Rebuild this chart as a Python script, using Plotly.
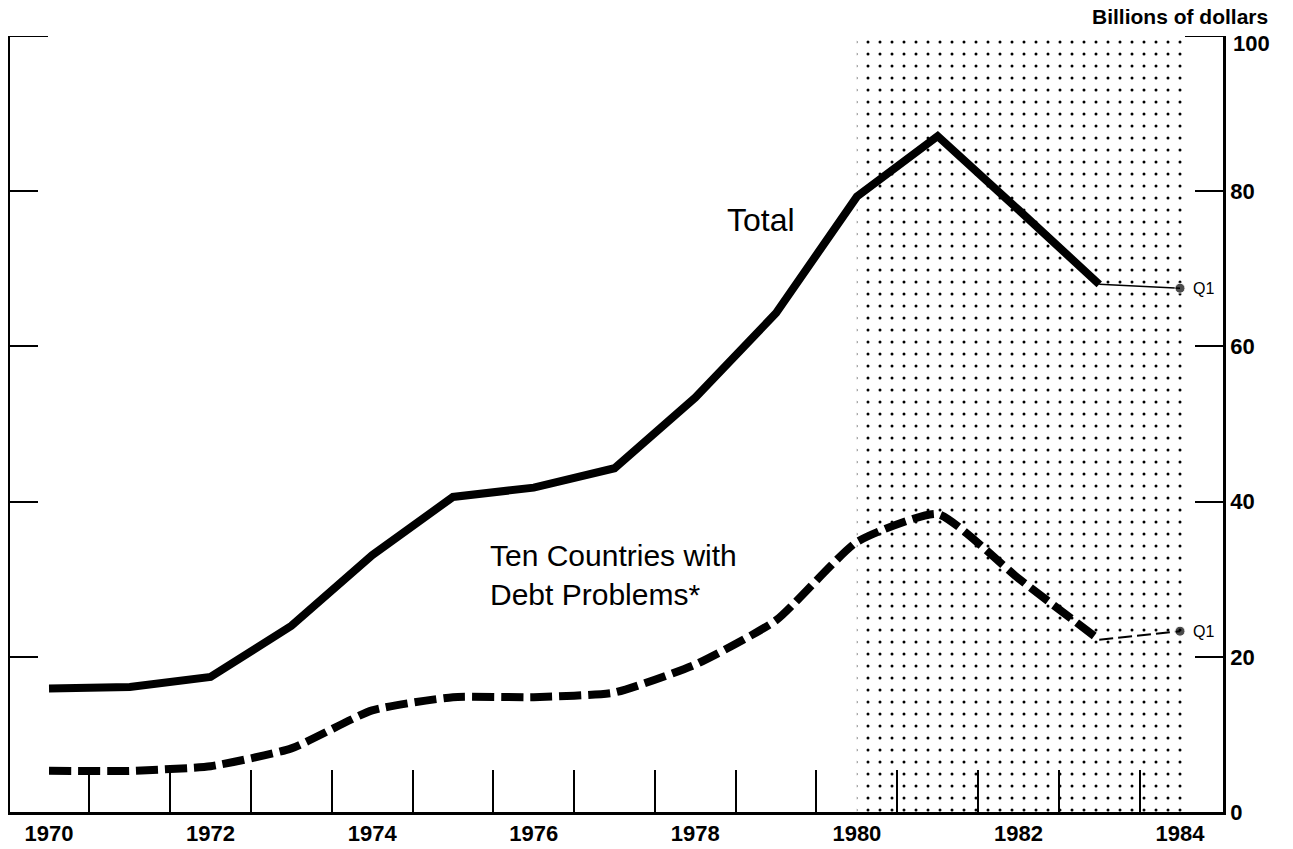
import plotly.graph_objects as go

# Data (billions of dollars)
years = [1970, 1971, 1972, 1973, 1974, 1975, 1976, 1977, 1978, 1979, 1980, 1981, 1982, 1983]
total = [15.9, 16.1, 17.4, 24.0, 33.1, 40.6, 41.8, 44.3, 53.4, 64.3, 79.3, 87.1, 77.6, 68.0]
ten_countries = [5.3, 5.3, 5.9, 8.2, 13.1, 14.8, 14.8, 15.4, 19.0, 24.7, 34.8, 38.4, 30.1, 22.2]
q1_year = 1984
total_q1 = 67.5
ten_q1 = 23.3

shade_start = 1980
shade_end = 1984.05

x_label_years = [1970, 1972, 1974, 1976, 1978, 1980, 1982, 1984]
x_minor_ticks = [y + 0.5 for y in range(1970, 1984)]
y_ticks = [0, 20, 40, 60, 80, 100]

FONT = "Liberation Sans, Arial, sans-serif"

fig = go.Figure()

# dotted shaded period
fig.add_trace(go.Scatter(
    x=[shade_start, shade_end, shade_end, shade_start, shade_start],
    y=[0, 0, 100, 100, 0],
    fill="toself", mode="lines", line=dict(width=0),
    fillcolor="rgba(0,0,0,0)",
    fillpattern=dict(shape=".", size=12, solidity=0.05, fgcolor="black",
                     bgcolor="rgba(0,0,0,0)", fgopacity=1),
    hoverinfo="skip", showlegend=False))

# Total
fig.add_trace(go.Scatter(x=years, y=total, mode="lines",
                         line=dict(color="black", width=8), showlegend=False))
fig.add_trace(go.Scatter(x=[years[-1], q1_year], y=[total[-1], total_q1], mode="lines+markers",
                         line=dict(color="black", width=1.5),
                         marker=dict(size=[0, 10], color="black"), showlegend=False))

# Ten countries
fig.add_trace(go.Scatter(x=years, y=ten_countries, mode="lines",
                         line=dict(color="black", width=8, dash="22px,7px", shape="spline", smoothing=0.5),
                         showlegend=False))
fig.add_trace(go.Scatter(x=[years[-1], q1_year], y=[ten_countries[-1], ten_q1], mode="lines+markers",
                         line=dict(color="black", width=2, dash="14px,5px"),
                         marker=dict(size=[0, 10], color="black"), showlegend=False, yaxis="y2"))

fig.add_annotation(x=1978.81, y=76.3, text="Total", xanchor="center", yanchor="middle",
                   showarrow=False, font=dict(family=FONT, size=32, color="black"))
fig.add_annotation(x=1975.43, y=30.5, text="Ten Countries with<br>Debt Problems*",
                   xanchor="left", yanchor="middle", align="left",
                   showarrow=False, font=dict(family=FONT, size=30, color="black"))
fig.add_annotation(x=q1_year + 0.14, y=total_q1, text="Q1", xanchor="left", yanchor="middle",
                   showarrow=False, font=dict(family=FONT, size=16, color="black"))
fig.add_annotation(x=q1_year + 0.14, y=ten_q1, text="Q1", xanchor="left", yanchor="middle",
                   showarrow=False, font=dict(family=FONT, size=16, color="black"))
fig.add_annotation(x=1.0387, y=1.025, xref="paper", yref="paper", text="<b>Billions of dollars</b>",
                   xanchor="right", yanchor="middle", showarrow=False,
                   font=dict(family=FONT, size=21, color="black"))
# top value label sits a little below its tick, as in the original
fig.add_annotation(x=1, y=y_ticks[-1], xref="paper", yref="y", text="<b>%d</b>" % y_ticks[-1],
                   xanchor="left", yanchor="middle", xshift=8, yshift=-7, showarrow=False,
                   font=dict(family=FONT, size=22, color="black"))

# top stubs for the 100 tick (longer than the other ticks)
fig.add_shape(type="line", xref="paper", yref="y", x0=1 - 38 / 1213, x1=1, y0=100, y1=100,
              line=dict(color="black", width=2))
fig.add_shape(type="line", xref="paper", yref="y", x0=0, x1=38 / 1213, y0=100, y1=100,
              line=dict(color="black", width=2))

fig.update_layout(
    width=1285, height=841,
    margin=dict(l=2, r=70, t=27.5, b=36.5),
    paper_bgcolor="white", plot_bgcolor="white",
    font=dict(family=FONT, size=22, color="black"),
    xaxis=dict(range=[1969.517, 1984.532], showgrid=False, zeroline=False,
               showline=True, linecolor="black", linewidth=2.5,
               tickmode="array", tickvals=x_label_years,
               ticktext=["<b>%d</b>" % v for v in x_label_years],
               ticks="inside", ticklen=0, tickwidth=0,
               minor=dict(tickmode="array", tickvals=x_minor_ticks, ticks="inside",
                          ticklen=42, tickwidth=1.5, tickcolor="black"),
               tickfont=dict(size=22, family=FONT)),
    yaxis=dict(range=[0, 100], showgrid=False, zeroline=False,
               showline=True, linecolor="black", linewidth=2,
               tickmode="array", tickvals=[100], ticks="inside", ticklen=38,
               tickwidth=2, tickcolor="black", showticklabels=False,
               minor=dict(tickmode="array", tickvals=y_ticks[1:-1], ticks="inside",
                          ticklen=28, tickwidth=1.5, tickcolor="black")),
    yaxis2=dict(range=[0, 100], overlaying="y", side="right", showgrid=False, zeroline=False,
                showline=True, linecolor="black", linewidth=2.5,
                tickmode="array", tickvals=y_ticks[:-1], ticktext=["<b>%d</b>" % v for v in y_ticks[:-1]],
                ticks="inside", ticklen=28, tickwidth=1.5, tickcolor="black",
                tickfont=dict(size=22, family=FONT)),
)

fig.write_html("out.html")
